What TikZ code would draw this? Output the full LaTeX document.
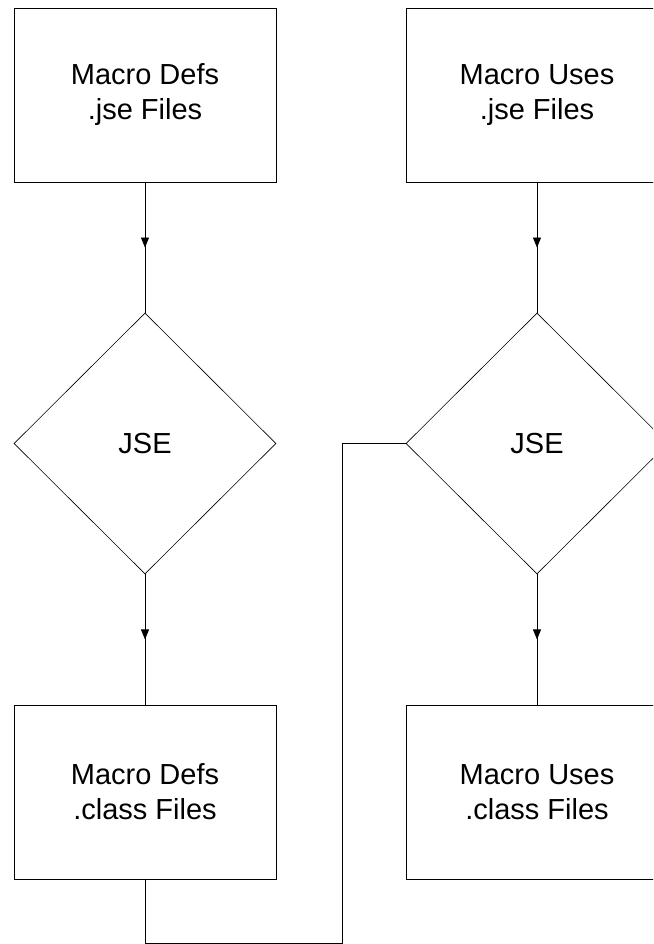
\documentclass[tikz,border=0pt]{standalone}
\usepackage{fontspec}
\setmainfont{Liberation Sans}
\usetikzlibrary{shapes.geometric,arrows.meta,decorations.markings}
\begin{document}
\begin{tikzpicture}[x=1pt,y=-1pt,
  box/.style={draw=black,line width=0.8pt,rectangle,minimum width=262pt,minimum height=174pt,inner sep=0pt,
    align=center,font=\fontsize{29}{35}\selectfont},
  dia/.style={draw=black,line width=0.6pt,diamond,minimum width=262pt,minimum height=261pt,inner sep=0pt,
    font=\fontsize{29}{35}\selectfont},
  flow/.style={line width=0.8pt,postaction={decorate},decoration={markings,
    mark=at position 0.5 with {\arrow{Triangle[width=8pt,length=10pt]}}}},
  link/.style={line width=0.8pt}]
\clip (0,0) rectangle (653,944);
\fill[white] (0,0) rectangle (653,944);
\node[box] (ld) at (145,95) {Macro Defs\\.jse Files};
\node[dia] (lj) at (145,443.5) {JSE};
\node[box] (lc) at (145,792) {Macro Defs\\.class Files};
\node[box] (ud) at (537,95) {Macro Uses\\.jse Files};
\node[dia] (uj) at (537,443.5) {JSE};
\node[box] (uc) at (537,792) {Macro Uses\\.class Files};
\coordinate (c1) at (145,943);
\coordinate (c2) at (342,943);
\coordinate (c3) at (342,443.5);
\draw[flow] (ld.south) -- (lj.north);
\draw[flow] (lj.south) -- (lc.north);
\draw[flow] (ud.south) -- (uj.north);
\draw[flow] (uj.south) -- (uc.north);
\draw[link] (lc.south) -- (c1) -- (c2) -- (c3) -- (uj.west);
\end{tikzpicture}
\end{document}
